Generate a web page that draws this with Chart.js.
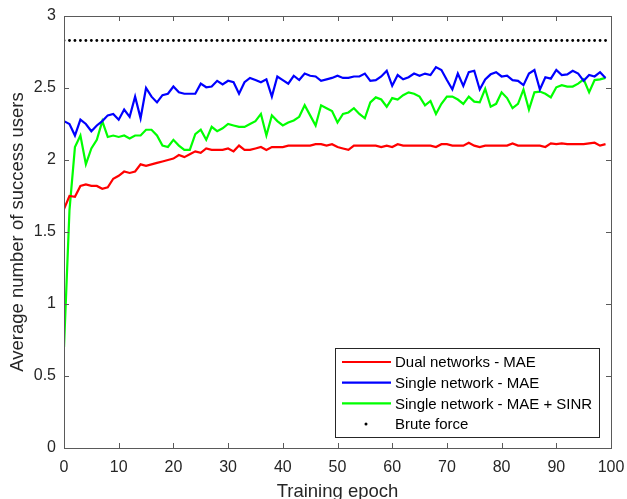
<!DOCTYPE html>
<html>
<head>
<meta charset="utf-8">
<script src="https://cdn.jsdelivr.net/npm/chart.js@4.4.0/dist/chart.umd.min.js"></script>
<style>
  html, body { margin: 0; padding: 0; background: #fff; }
  canvas { display: block; }
</style>
</head>
<body>
<canvas id="grafico" width="627" height="499"></canvas>
<script>
// epochs 0..99
const epochs = Array.from({ length: 100 }, (_, i) => i);

const xTicks = [0, 10, 20, 30, 40, 50, 60, 70, 80, 90, 100];
const yTicks = [0, 0.5, 1, 1.5, 2, 2.5, 3];
const yTickLabels = ['0', '0.5', '1', '1.5', '2', '2.5', '3'];

const dualMAE = [
  1.66, 1.75, 1.745, 1.82, 1.83, 1.82, 1.82, 1.80, 1.81, 1.87,
  1.89, 1.92, 1.91, 1.92, 1.97, 1.96, 1.97, 1.98, 1.99, 2.00,
  2.01, 2.035, 2.02, 2.04, 2.06, 2.05, 2.08, 2.07, 2.07, 2.07,
  2.08, 2.06, 2.10, 2.07, 2.07, 2.08, 2.09, 2.07, 2.09, 2.09,
  2.09, 2.10, 2.10, 2.10, 2.10, 2.10, 2.11, 2.11, 2.10, 2.11,
  2.09, 2.08, 2.07, 2.10, 2.10, 2.10, 2.10, 2.10, 2.09, 2.10,
  2.09, 2.11, 2.10, 2.10, 2.10, 2.10, 2.10, 2.10, 2.09, 2.11,
  2.11, 2.10, 2.10, 2.10, 2.12, 2.10, 2.09, 2.10, 2.10, 2.10,
  2.10, 2.10, 2.115, 2.10, 2.10, 2.10, 2.10, 2.10, 2.09, 2.115,
  2.11, 2.115, 2.11, 2.11, 2.11, 2.11, 2.115, 2.12, 2.10, 2.11
];

const singleMAE = [
  2.27, 2.25, 2.17, 2.28, 2.25, 2.20, 2.24, 2.27, 2.31, 2.32,
  2.28, 2.35, 2.30, 2.44, 2.29, 2.50, 2.44, 2.40, 2.45, 2.46,
  2.51, 2.47, 2.46, 2.46, 2.46, 2.53, 2.505, 2.51, 2.55, 2.525,
  2.55, 2.54, 2.46, 2.54, 2.57, 2.555, 2.54, 2.56, 2.44, 2.58,
  2.555, 2.53, 2.585, 2.555, 2.60, 2.585, 2.58, 2.55, 2.56, 2.57,
  2.585, 2.57, 2.57, 2.58, 2.58, 2.60, 2.55, 2.555, 2.58, 2.62,
  2.515, 2.59, 2.56, 2.575, 2.60, 2.585, 2.60, 2.59, 2.645, 2.625,
  2.555, 2.49, 2.60, 2.515, 2.61, 2.62, 2.49, 2.56, 2.595, 2.61,
  2.58, 2.585, 2.555, 2.55, 2.52, 2.60, 2.625, 2.49, 2.575, 2.565,
  2.625, 2.59, 2.595, 2.62, 2.60, 2.55, 2.59, 2.58, 2.61, 2.57
];

const singleMAESINR = [
  0.70, 1.65, 2.09, 2.17, 1.97, 2.08, 2.14, 2.27, 2.16, 2.17,
  2.16, 2.17, 2.15, 2.17, 2.17, 2.21, 2.21, 2.17, 2.10, 2.09,
  2.14, 2.10, 2.07, 2.07, 2.18, 2.21, 2.14, 2.23, 2.20, 2.22,
  2.25, 2.24, 2.23, 2.23, 2.25, 2.27, 2.32, 2.17, 2.31, 2.27,
  2.24, 2.26, 2.275, 2.30, 2.38, 2.31, 2.24, 2.38, 2.36, 2.34,
  2.26, 2.32, 2.33, 2.36, 2.32, 2.29, 2.40, 2.435, 2.42, 2.37,
  2.43, 2.42, 2.45, 2.47, 2.46, 2.44, 2.38, 2.41, 2.32, 2.39,
  2.44, 2.44, 2.42, 2.39, 2.44, 2.405, 2.40, 2.495, 2.37, 2.39,
  2.47, 2.43, 2.36, 2.39, 2.49, 2.35, 2.47, 2.475, 2.46, 2.435,
  2.505, 2.52, 2.51, 2.51, 2.53, 2.56, 2.47, 2.555, 2.56, 2.57
];

const bruteForceValue = 2.83;

const seriesLabels = [
  'Dual networks - MAE',
  'Single network - MAE',
  'Single network - MAE + SINR',
  'Brute force'
];

const fuente = '"Liberation Sans", Arial, Helvetica, sans-serif';
const colorEje = '#5a5a5a';
const colorTexto = '#262626';

function puntos(valores) {
  return valores.map((v, i) => ({ x: epochs[i], y: v }));
}

// box + inward ticks, MATLAB style
const marcoPlugin = {
  id: 'marco',
  afterDatasetsDraw(chart) {
    const { ctx, chartArea: a, scales } = chart;
    const largo = 5;
    ctx.save();
    ctx.strokeStyle = colorEje;
    ctx.lineWidth = 1;
    ctx.strokeRect(Math.round(a.left) + 0.5, Math.round(a.top) + 0.5,
      Math.round(a.right - a.left), Math.round(a.bottom - a.top));
    ctx.beginPath();
    xTicks.forEach(v => {
      const px = Math.round(scales.x.getPixelForValue(v)) + 0.5;
      ctx.moveTo(px, a.bottom); ctx.lineTo(px, a.bottom - largo);
      ctx.moveTo(px, a.top); ctx.lineTo(px, a.top + largo);
    });
    yTicks.forEach(v => {
      const py = Math.round(scales.y.getPixelForValue(v)) + 0.5;
      ctx.moveTo(a.left, py); ctx.lineTo(a.left + largo, py);
      ctx.moveTo(a.right, py); ctx.lineTo(a.right - largo, py);
    });
    ctx.stroke();
    ctx.restore();
  }
};

// boxed legend in the lower right of the plot
const leyendaPlugin = {
  id: 'leyenda',
  afterDraw(chart) {
    const { ctx } = chart;
    const caja = { x: 335, y: 348, w: 264, h: 89 };
    ctx.save();
    ctx.fillStyle = '#fff';
    ctx.fillRect(caja.x, caja.y, caja.w, caja.h);
    ctx.strokeStyle = colorTexto;
    ctx.lineWidth = 1;
    ctx.strokeRect(caja.x + 0.5, caja.y + 0.5, caja.w, caja.h);
    ctx.font = '15px ' + fuente;
    ctx.textBaseline = 'middle';
    ctx.textAlign = 'left';
    chart.data.datasets.forEach((ds, i) => {
      const fy = caja.y + 14 + i * 20.7;
      if (ds.showLine === false) {
        ctx.fillStyle = ds.backgroundColor;
        ctx.beginPath();
        ctx.arc(366, fy, 1.5, 0, Math.PI * 2);
        ctx.fill();
      } else {
        ctx.strokeStyle = ds.borderColor;
        ctx.lineWidth = 2.2;
        ctx.beginPath();
        ctx.moveTo(342, fy); ctx.lineTo(391, fy);
        ctx.stroke();
      }
      ctx.fillStyle = '#000';
      ctx.fillText(ds.label, 395, fy + 1);
    });
    ctx.restore();
  }
};

new Chart(document.getElementById('grafico'), {
  type: 'line',
  data: {
    datasets: [
      {
        label: seriesLabels[0],
        data: puntos(dualMAE),
        borderColor: '#ff0000',
        backgroundColor: '#ff0000',
        borderWidth: 2.2,
        pointRadius: 0,
        tension: 0
      },
      {
        label: seriesLabels[1],
        data: puntos(singleMAE),
        borderColor: '#0000ff',
        backgroundColor: '#0000ff',
        borderWidth: 2.2,
        pointRadius: 0,
        tension: 0
      },
      {
        label: seriesLabels[2],
        data: puntos(singleMAESINR),
        borderColor: '#00ff00',
        backgroundColor: '#00ff00',
        borderWidth: 2.2,
        pointRadius: 0,
        tension: 0
      },
      {
        label: seriesLabels[3],
        data: epochs.map(e => ({ x: e, y: bruteForceValue })),
        showLine: false,
        borderColor: '#000',
        backgroundColor: '#000',
        borderWidth: 0,
        pointRadius: 1.4,
        pointStyle: 'circle'
      }
    ]
  },
  options: {
    responsive: false,
    animation: false,
    layout: { padding: { top: 16, right: 16, left: 0, bottom: 0 } },
    plugins: {
      legend: { display: false },
      tooltip: { enabled: false }
    },
    scales: {
      x: {
        type: 'linear',
        min: 0,
        max: 100,
        afterBuildTicks: s => { s.ticks = xTicks.map(v => ({ value: v })); },
        afterFit: s => { s.height = 51; s.paddingLeft = 0; s.paddingRight = 0; },
        grid: { display: false, drawTicks: false },
        border: { display: false },
        ticks: {
          color: colorTexto,
          padding: 10,
          maxRotation: 0,
          font: { family: fuente, size: 16 }
        },
        title: {
          display: true,
          text: 'Training epoch',
          color: colorTexto,
          padding: { top: 0, bottom: -2 },
          font: { family: fuente, size: 18.5, lineHeight: 1 }
        }
      },
      y: {
        min: 0,
        max: 3,
        afterBuildTicks: s => { s.ticks = yTicks.map(v => ({ value: v })); },
        afterFit: s => { s.width = 64; s.paddingTop = 0; s.paddingBottom = 0; },
        grid: { display: false, drawTicks: false },
        border: { display: false },
        ticks: {
          color: colorTexto,
          padding: 8,
          font: { family: fuente, size: 16 },
          callback: (v) => yTickLabels[yTicks.indexOf(v)]
        },
        title: {
          display: true,
          text: 'Average number of success users',
          color: colorTexto,
          padding: { top: 9, bottom: 0 },
          font: { family: fuente, size: 18.5, lineHeight: 1 }
        }
      }
    }
  },
  plugins: [marcoPlugin, leyendaPlugin]
});
</script>
</body>
</html>
